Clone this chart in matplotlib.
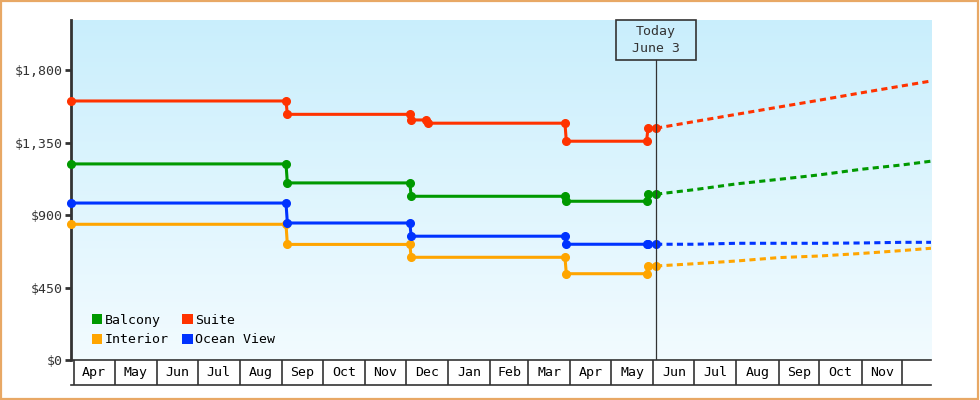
import numpy as np
import pandas as pd
import matplotlib
matplotlib.use('Agg')
import matplotlib.pyplot as plt
from matplotlib.patches import Patch, Rectangle

plt.rcParams['font.family'] = ['DejaVu Sans Mono']

# observed prices (step changes shown as pairs of points)
suite_dates = pd.to_datetime(['2024-03-30', '2024-09-04', '2024-09-05', '2024-12-04', '2024-12-05',
                              '2024-12-16', '2024-12-17', '2025-03-28', '2025-03-29', '2025-05-27',
                              '2025-05-28', '2025-06-03'])
suite_obs = [1609, 1609, 1526, 1526, 1491, 1491, 1471, 1471, 1359, 1359, 1440, 1440]

other_dates = pd.to_datetime(['2024-03-30', '2024-09-04', '2024-09-05', '2024-12-04', '2024-12-05',
                              '2025-03-28', '2025-03-29', '2025-05-27', '2025-05-28', '2025-06-03'])
balcony_obs = [1218, 1218, 1100, 1100, 1017, 1017, 986, 986, 1030, 1030]
ocean_obs = [975, 975, 851, 851, 769, 769, 719, 719, 719, 719]
interior_obs = [843, 843, 718, 718, 638, 638, 536, 536, 584, 584]

# forecast
fc_dates = pd.to_datetime(['2025-06-03', '2025-07-01', '2025-08-01', '2025-09-01',
                           '2025-10-01', '2025-11-01', '2025-12-01', '2025-12-22'])
suite_fc = [1440, 1481, 1526, 1571, 1614, 1660, 1703, 1733]
balcony_fc = [1030, 1058, 1094, 1122, 1150, 1185, 1212, 1235]
ocean_fc = [719, 719, 725, 725, 725, 727, 731, 731]
interior_fc = [584, 598, 615, 636, 646, 662, 680, 694]

today = pd.Timestamp('2025-06-03')
y_ticks = [0, 450, 900, 1350, 1800]

series = [
    ('Balcony', other_dates, balcony_obs, balcony_fc, '#009900'),
    ('Interior', other_dates, interior_obs, interior_fc, '#ffa500'),
    ('Suite', suite_dates, suite_obs, suite_fc, '#ff3300'),
    ('Ocean View', other_dates, ocean_obs, ocean_fc, '#0033ff'),
]

fig = plt.figure(figsize=(9.8, 4.0), dpi=100)
ax = fig.add_axes([71 / 980, 40 / 400, 860 / 980, 340 / 400])

x0 = pd.Timestamp('2024-03-30')
x1 = pd.Timestamp('2025-12-22')
ax.set_xlim(x0, x1)
ax.set_ylim(0, 2112)

# gradient background
grad = np.linspace(0, 1, 256).reshape(-1, 1)
top = np.array([0.79, 0.935, 0.99])
bot = np.array([0.95, 0.985, 1.0])
img = top[None, None, :] * (1 - grad[:, :, None]) + bot[None, None, :] * grad[:, :, None]
ax.imshow(img, extent=[0, 1, 0, 1], transform=ax.transAxes, aspect='auto', zorder=0)

for name, dates, obs, fc, col in series:
    ax.plot(dates, obs, color=col, lw=2.2, marker='o', ms=5.5, zorder=3, clip_on=False)
    ax.plot(fc_dates, fc, color=col, lw=2.2, ls=(0, (2, 1.4)), zorder=3)

# today marker
xt = ax.get_xaxis_transform()
ax.plot([today, today], [0, 1 - 40 / 340], color='#333333', lw=0.9, transform=xt, zorder=4)
ax.add_patch(Rectangle((today - pd.Timedelta(days=29.5), 1 - 40 / 340), pd.Timedelta(days=59), 40 / 340,
                       transform=xt, fill=False, ec='#333333', lw=1.2, clip_on=False, zorder=4))
ax.text(today, 1 - 12 / 340, 'Today', transform=xt, ha='center', va='center', fontsize=9.5, color='#333333')
ax.text(today, 1 - 29 / 340, 'June 3', transform=xt, ha='center', va='center', fontsize=9.5, color='#333333')

# month cells
month_starts = pd.date_range('2024-04-01', '2025-12-01', freq='MS')
mids = [a + (b - a) / 2 for a, b in zip(month_starts[:-1], month_starts[1:])]
ax.set_xticks(month_starts)
ax.set_xticklabels([])
ax.set_xticks(mids, minor=True)
ax.set_xticklabels([d.strftime('%b') for d in mids], minor=True)
ax.tick_params(axis='x', which='major', direction='out', length=18, width=1.2, color='#333333')
ax.tick_params(axis='x', which='minor', length=0, pad=4, labelsize=9.5, labelcolor='black')
ax.plot([0, 1], [-25 / 340, -25 / 340], transform=ax.transAxes, color='#333333', lw=1.2, clip_on=False)

ax.set_yticks(y_ticks)
ax.set_yticklabels(['${:,.0f}'.format(v) for v in y_ticks])
ax.tick_params(axis='y', direction='out', length=4, width=2, color='#333333', labelsize=9.5,
               labelcolor='#333333', pad=2)

for s in ['top', 'right']:
    ax.spines[s].set_visible(False)
ax.spines['left'].set_linewidth(2)
ax.spines['left'].set_color('#333333')
ax.spines['bottom'].set_linewidth(1.2)
ax.spines['bottom'].set_color('#333333')

handles = [Patch(fc=c, ec='none', label=n) for n, _, _, _, c in series]
ax.legend(handles=handles, ncol=2, loc='lower left', bbox_to_anchor=(0.018, 0.025), frameon=False,
          fontsize=9.5, handlelength=0.8, handleheight=0.8, handletextpad=0.2, columnspacing=1.0,
          labelspacing=0.5, borderaxespad=0)

fig.patches.append(Rectangle((0.001, 0.002), 0.997, 0.995, transform=fig.transFigure, fill=False,
                             ec='#e8a865', lw=1.6))

fig.savefig('out.png', dpi=100)
